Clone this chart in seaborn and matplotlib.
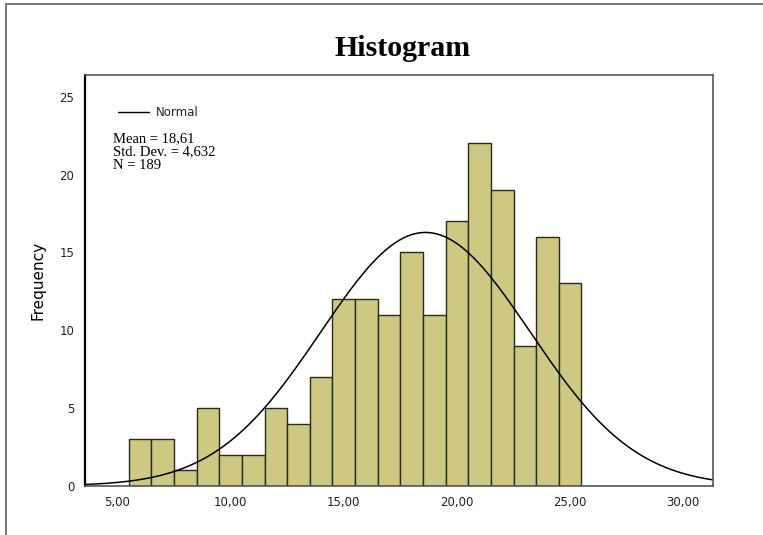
import numpy as np
import pandas as pd
import matplotlib
matplotlib.use("Agg")
import matplotlib.pyplot as plt
import seaborn as sns
from matplotlib.lines import Line2D

# Bin centers (width 1) and frequencies
bin_centers = [6, 7, 8, 9, 10, 11, 12, 13, 14, 15, 16, 17, 18, 19, 20, 21, 22, 23, 24, 25]
counts = [3, 3, 1, 5, 2, 2, 5, 4, 7, 12, 12, 11, 15, 11, 17, 22, 19, 9, 16, 13]

# Summary statistics printed on the chart
mean_val = 18.61
std_val = 4.632
n_obs = 189

x_ticks = [5, 10, 15, 20, 25, 30]
x_tick_labels = ["5,00", "10,00", "15,00", "20,00", "25,00", "30,00"]
y_ticks = [0, 5, 10, 15, 20, 25]

df = pd.DataFrame({"value": bin_centers, "count": counts})

sns.set_style("white")

fig = plt.figure(figsize=(7.63, 5.35), dpi=100)
ax = fig.add_axes([0.111, 0.092, 0.823, 0.768])

sns.histplot(data=df, x="value", weights="count", discrete=True, ax=ax,
             color="#cdc882", edgecolor="#2b2b1a", linewidth=1.0, alpha=1.0)

# normal curve from the stated mean / sd, scaled by N * bin width
xs = np.linspace(3.5, 31.4, 400)
pdf = np.exp(-0.5 * ((xs - mean_val) / std_val) ** 2) / (std_val * np.sqrt(2 * np.pi))
ax.plot(xs, pdf * n_obs * 1.0, color="black", linewidth=1.1)

ax.set_xlim(3.55, 31.3)
ax.set_ylim(0, 26.4)
ax.set_xticks(x_ticks)
ax.set_xticklabels(x_tick_labels)
ax.set_yticks(y_ticks)
ax.tick_params(axis="both", direction="out", length=4, width=0.8, color="#999999",
               labelsize=8.5, labelcolor="#222222")
for side in ["top", "right", "bottom", "left"]:
    ax.spines[side].set_visible(True)
    ax.spines[side].set_color("#555555")
    ax.spines[side].set_linewidth(1.2)
ax.spines["left"].set_linewidth(1.6)
ax.spines["left"].set_color("black")

ax.set_xlabel("")
ax.set_ylabel("Frequency", fontsize=11, family="DejaVu Sans", labelpad=10, color="black")

fig.text(0.528, 0.91, "Histogram", fontsize=21.5, fontweight="bold",
         family="Liberation Serif", color="black", ha="center", va="center")

# legend-like annotation
ax.plot([5.0, 6.4], [24.0, 24.0], color="black", linewidth=1.0)
ax.text(6.7, 24.0, "Normal", fontsize=8.5, va="center", family="DejaVu Sans", color="#222222")
ax.text(4.8, 22.75, "Mean = 18,61\nStd. Dev. = 4,632\nN = 189", fontsize=10.5,
        va="top", ha="left", family="Liberation Serif", linespacing=1.08, color="black")

# outer frame of the picture (only left and top edges show)
fig.lines.append(Line2D([0.008, 0.008], [0.0, 0.993], transform=fig.transFigure,
                        color="#777777", linewidth=1.4))
fig.lines.append(Line2D([0.008, 1.0], [0.993, 0.993], transform=fig.transFigure,
                        color="#777777", linewidth=1.4))

fig.savefig("out.png", dpi=100)
